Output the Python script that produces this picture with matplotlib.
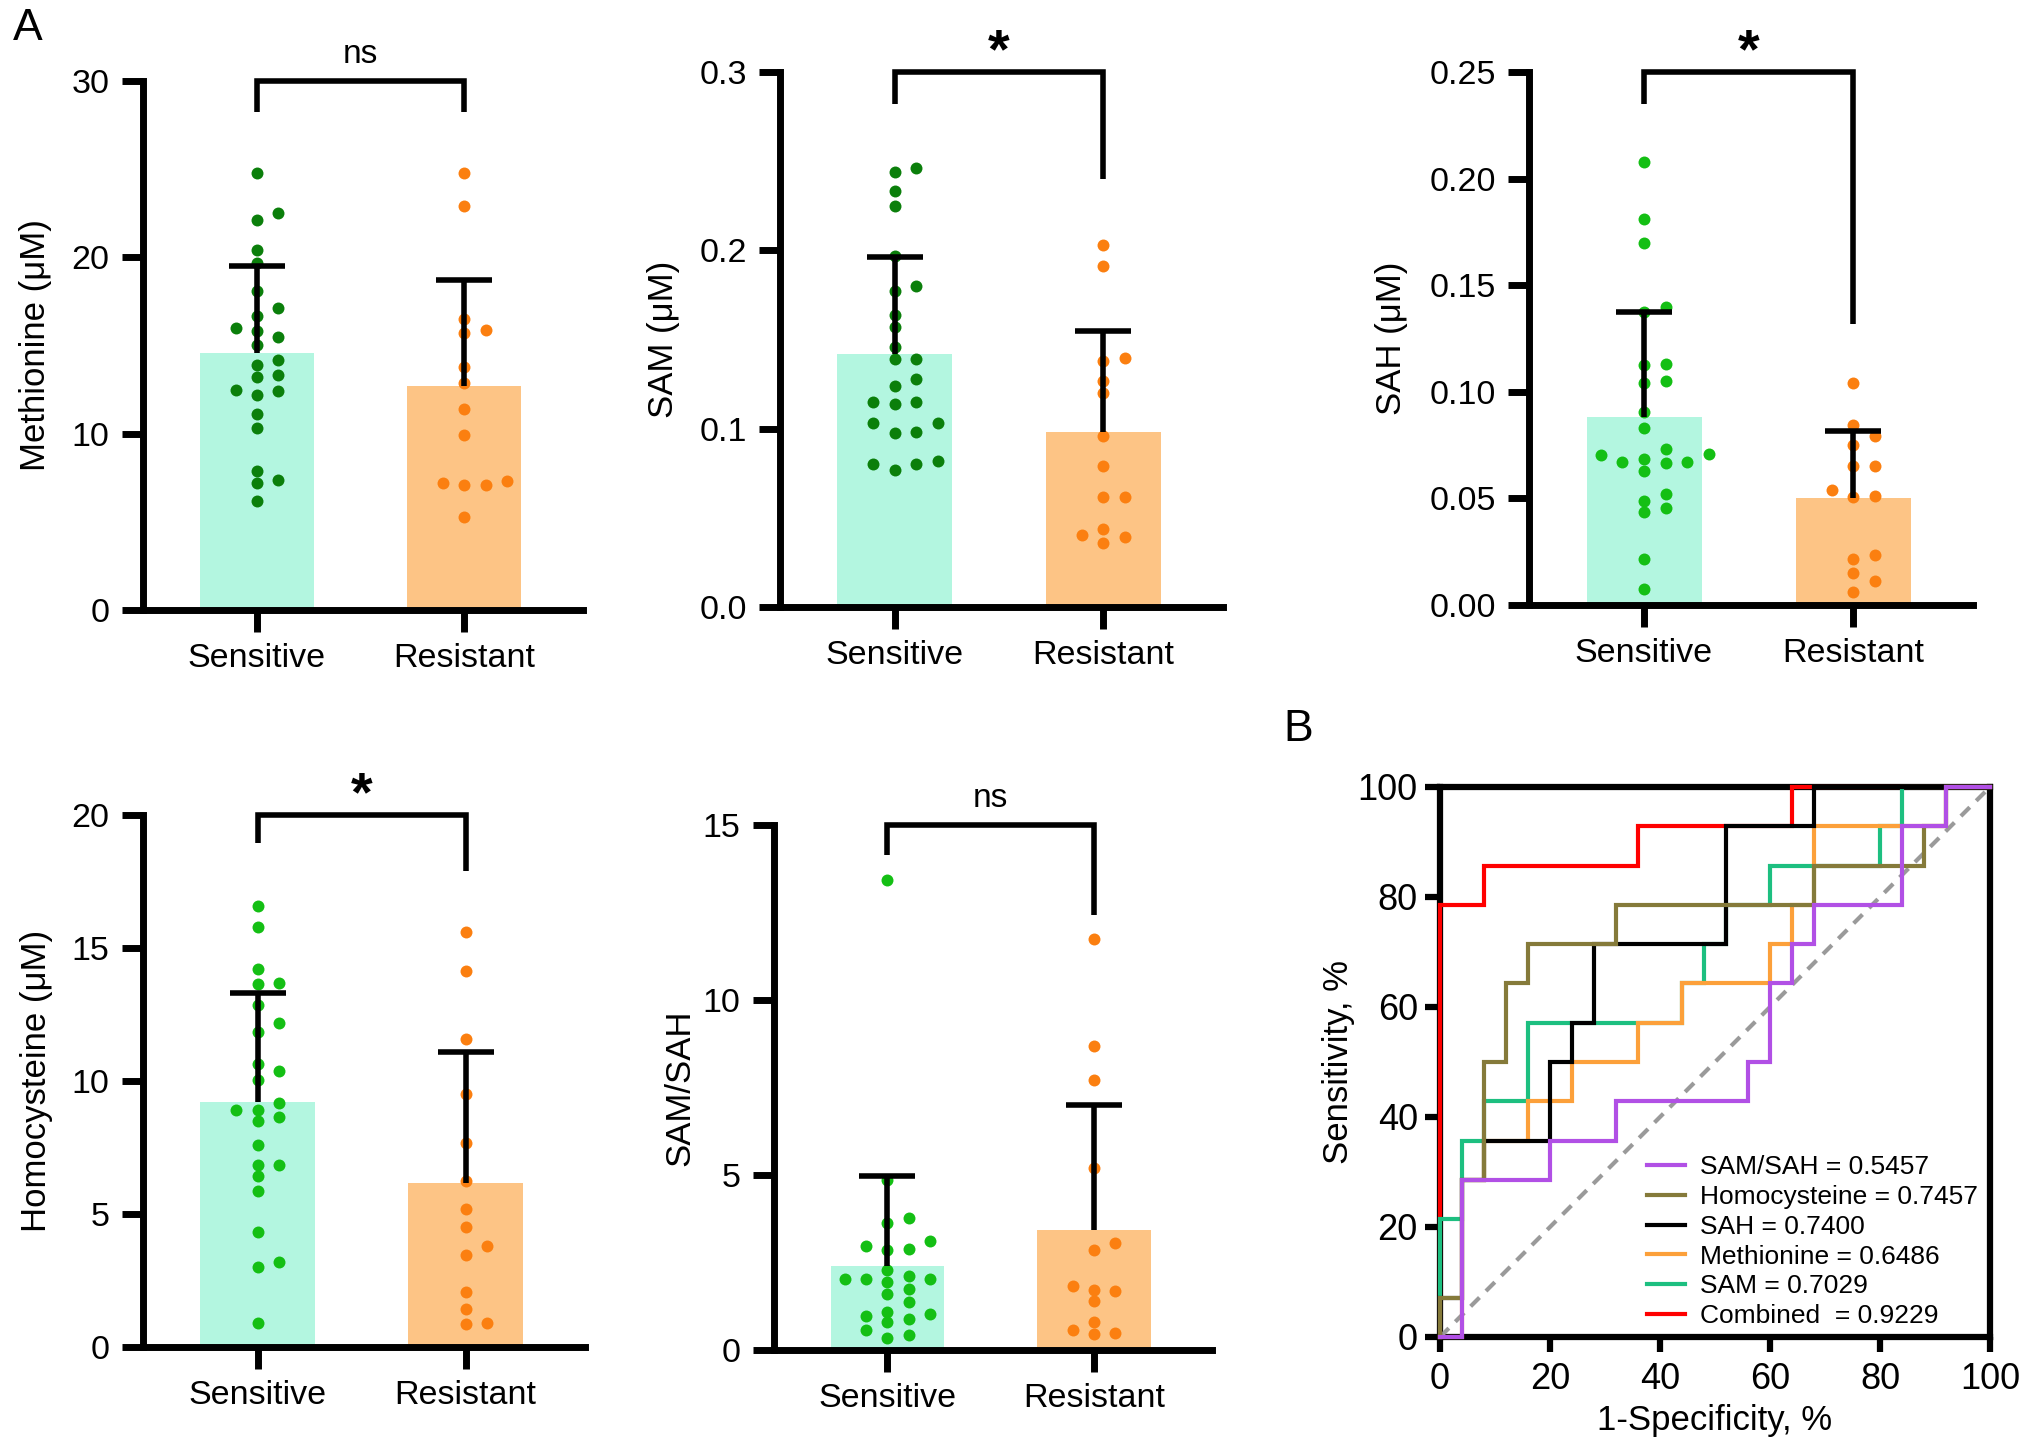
import numpy as np
import matplotlib
matplotlib.use("Agg")
import matplotlib.pyplot as plt
from matplotlib.lines import Line2D

plt.rcParams['font.family'] = ['Liberation Sans', 'DejaVu Sans']

# ---------------- data ----------------
categories = ['Sensitive', 'Resistant']

met_sens = [24.8, 22.5, 22.1, 20.4, 19.7, 18.1, 17.1, 16.7, 15.8, 16.0, 15.5, 15.0, 14.2,
            13.9, 13.2, 13.3, 12.5, 12.2, 12.4, 11.1, 10.3, 7.9, 7.4, 7.2, 6.2]
met_res = [24.8, 22.9, 16.5, 15.7, 15.9, 13.8, 12.9, 11.4, 9.9, 7.3, 7.1, 7.2, 7.1, 5.3]
met_mean = [14.6, 12.7]
met_sd = [4.9, 6.0]

sam_sens = [0.246, 0.244, 0.233, 0.225, 0.197, 0.180, 0.177, 0.164, 0.157, 0.146, 0.139,
            0.139, 0.128, 0.124, 0.115, 0.114, 0.115, 0.103, 0.103, 0.0975, 0.098, 0.082,
            0.080, 0.080, 0.077]
sam_res = [0.203, 0.191, 0.138, 0.1395, 0.127, 0.120, 0.096, 0.079, 0.0615, 0.0615, 0.044,
           0.036, 0.0405, 0.0395]
sam_mean = [0.142, 0.098]
sam_sd = [0.054, 0.057]

sah_sens = [0.208, 0.181, 0.170, 0.1375, 0.1396, 0.113, 0.1127, 0.105, 0.104, 0.0905, 0.083,
            0.0704, 0.073, 0.0709, 0.0666, 0.067, 0.0687, 0.0673, 0.0628, 0.049, 0.052,
            0.0434, 0.0455, 0.0218, 0.0074]
sah_res = [0.104, 0.0846, 0.0793, 0.0751, 0.0651, 0.0652, 0.0539, 0.0508, 0.0509, 0.0218,
           0.0233, 0.0148, 0.0112, 0.0063]
sah_mean = [0.0884, 0.0501]
sah_sd = [0.0491, 0.0313]

hcy_sens = [16.58, 15.80, 14.20, 13.68, 13.66, 12.85, 12.19, 11.84, 10.63, 10.36, 10.02, 9.17,
            8.91, 8.91, 8.65, 8.51, 7.60, 6.86, 6.86, 6.42, 5.87, 4.34, 3.21, 2.99, 0.90]
hcy_res = [15.59, 14.15, 11.58, 9.50, 7.67, 6.25, 5.17, 4.51, 3.78, 3.44, 2.05, 1.42, 0.87, 0.90]
hcy_mean = [9.20, 6.16]
hcy_sd = [4.12, 4.92]

ratio_sens = [13.44, 4.85, 3.77, 3.62, 3.11, 2.87, 2.96, 2.90, 2.28, 2.04, 2.12, 2.02, 2.04,
              1.95, 1.75, 1.59, 1.36, 1.03, 0.96, 1.09, 0.90, 0.79, 0.57, 0.43, 0.34]
ratio_res = [11.74, 8.70, 7.72, 5.20, 3.07, 2.85, 1.84, 1.69, 1.71, 1.40, 0.79, 0.46, 0.57, 0.50]
ratio_mean = [2.41, 3.44]
ratio_sd = [2.57, 3.56]

# significance brackets: (top, left leg end, right leg end), label
met_bracket = [30, 28.26, 28.26]
sam_bracket = [0.30, 0.282, 0.240]
sah_bracket = [0.25, 0.235, 0.1316]
hcy_bracket = [20, 18.96, 17.88]
ratio_bracket = [15, 14.14, 12.43]
sig_labels = ['ns', '*', '*', '*', 'ns']

# ROC curves (1-specificity %, sensitivity %)
roc_ratio_fpr = [0, 4, 4, 20, 20, 32, 32, 56, 56, 60, 60, 64, 64, 68, 68, 84, 84, 92, 92, 100]
roc_ratio_tpr = [0, 0, 28.57, 28.57, 35.71, 35.71, 42.86, 42.86, 50, 50, 64.29, 64.29, 71.43,
                 71.43, 78.57, 78.57, 92.86, 92.86, 100, 100]
roc_hcy_fpr = [0, 0, 4, 4, 8, 8, 12, 12, 16, 16, 32, 32, 68, 68, 88, 88, 92, 92, 100]
roc_hcy_tpr = [0, 7.14, 7.14, 28.57, 28.57, 50, 50, 64.29, 64.29, 71.43, 71.43, 78.57, 78.57,
               85.71, 85.71, 92.86, 92.86, 100, 100]
roc_sah_fpr = [0, 0, 4, 4, 8, 8, 20, 20, 24, 24, 28, 28, 52, 52, 68, 68, 100]
roc_sah_tpr = [0, 7.14, 7.14, 28.57, 28.57, 35.71, 35.71, 50, 50, 57.14, 57.14, 71.43, 71.43,
               92.86, 92.86, 100, 100]
roc_met_fpr = [0, 4, 4, 8, 8, 16, 16, 24, 24, 36, 36, 44, 44, 60, 60, 64, 64, 68, 68, 92, 92, 100]
roc_met_tpr = [0, 0, 28.57, 28.57, 35.71, 35.71, 42.86, 42.86, 50, 50, 57.14, 57.14, 64.29,
               64.29, 71.43, 71.43, 78.57, 78.57, 92.86, 92.86, 100, 100]
roc_sam_fpr = [0, 0, 4, 4, 8, 8, 16, 16, 44, 44, 48, 48, 52, 52, 60, 60, 80, 80, 84, 84, 100]
roc_sam_tpr = [0, 21.43, 21.43, 35.71, 35.71, 42.86, 42.86, 57.14, 57.14, 64.29, 64.29, 71.43,
               71.43, 78.57, 78.57, 85.71, 85.71, 92.86, 92.86, 100, 100]
roc_comb_fpr = [0, 0, 8, 8, 36, 36, 64, 64, 100]
roc_comb_tpr = [0, 78.57, 78.57, 85.71, 85.71, 92.86, 92.86, 100, 100]

roc_labels = ['SAM/SAH = 0.5457', 'Homocysteine = 0.7457', 'SAH = 0.7400',
              'Methionine = 0.6486', 'SAM = 0.7029', 'Combined  = 0.9229']

# ---------------- style ----------------
DARK_GREEN = '#0b7f0b'
LIGHT_GREEN = '#14bf14'
ORANGE_DOT = '#fb7f10'
BAR_S = '#b3f6e0'
BAR_R = '#fdc485'
ROC_COLORS = {'ratio': '#b150e5', 'hcy': '#857a3a', 'sah': '#000000',
              'met': '#fca03a', 'sam': '#1dbf80', 'comb': '#ff0000'}

W, H = 2032, 1450
fig = plt.figure(figsize=(W / 100, H / 100), dpi=100)


def rect(l, r, t, b):
    return [l / W, 1 - b / H, (r - l) / W, (b - t) / H]


def swarm_offsets(values, px_per_unit, step=0.103, thr_px=10.5):
    values = np.asarray(values, dtype=float)
    order = np.argsort(values, kind='stable')
    offs = np.zeros(len(values))
    placed = []
    for i in order:
        y = values[i] * px_per_unit
        for k in [0, 1, -1, 2, -2, 3, -3, 4, -4]:
            if all(not (s == k and abs(yy - y) < thr_px) for s, yy in placed):
                break
        placed.append((k, y))
        offs[i] = k * step
    return offs


def bar_panel(box, sens, res, means, sds, ylim, yticks, yfmt, ylabel, ylab_x,
              sens_color, bracket, sig):
    ax = fig.add_axes(rect(*box))
    ax.set_xlim(-0.55, 1.573)
    ax.set_ylim(*ylim)
    ax.bar([0, 1], means, width=0.55, color=[BAR_S, BAR_R], zorder=1)
    pxu = (box[3] - box[2]) / (ylim[1] - ylim[0])
    for i, (vals, col) in enumerate([(sens, sens_color), (res, ORANGE_DOT)]):
        offs = swarm_offsets(vals, pxu)
        ax.plot(i + offs, vals, 'o', ms=8.6, color=col, mec='none', zorder=3, clip_on=False)
    # upper-only error bars (mean -> mean + SD) with a cap at the top
    for i, (m, s) in enumerate(zip(means, sds)):
        ax.plot([i, i], [m, m + s], color='black', lw=4, solid_capstyle='butt', zorder=4)
        ax.plot([i], [m + s], marker='_', ms=40, mew=4, color='black', zorder=4)
    top, lft, rgt = bracket
    ax.plot([0, 0, 1, 1], [lft, top, top, rgt], color='black', lw=4, clip_on=False,
            solid_joinstyle='miter', solid_capstyle='butt', zorder=5)
    if sig == '*':
        ax.annotate('*', xy=(0.5, top), xytext=(0, -5), textcoords='offset points',
                    ha='center', va='bottom', fontsize=40, fontweight='bold')
    else:
        ax.annotate(sig, xy=(0.5, top), xytext=(0, 8), textcoords='offset points',
                    ha='center', va='bottom', fontsize=24)
    for s in ['top', 'right']:
        ax.spines[s].set_visible(False)
    for s in ['left', 'bottom']:
        ax.spines[s].set_linewidth(5)
    ax.spines['left'].set_bounds(ylim[0], ylim[1])
    ax.set_xticks([0, 1])
    ax.set_xticklabels(categories)
    ax.set_yticks(yticks)
    ax.set_yticklabels([yfmt.format(v) for v in yticks])
    ax.tick_params(axis='y', length=15, width=5, labelsize=24.5, pad=9)
    ax.tick_params(axis='x', length=16, width=5, labelsize=24.5, pad=8)
    ax.set_ylabel(ylabel, fontsize=25, va='center')
    ax.yaxis.set_label_coords(ylab_x, 0.5)
    return ax


bar_panel((143, 583, 81, 610), met_sens, met_res, met_mean, met_sd, (0, 30), [0, 10, 20, 30],
          '{:.0f}', 'Methionine (μM)', -0.245, DARK_GREEN, met_bracket, sig_labels[0])
bar_panel((780, 1223, 72, 607), sam_sens, sam_res, sam_mean, sam_sd, (0, 0.3),
          [0, 0.1, 0.2, 0.3], '{:.1f}', 'SAM (μM)', -0.264, DARK_GREEN, sam_bracket, sig_labels[1])
bar_panel((1529, 1973, 72, 605), sah_sens, sah_res, sah_mean, sah_sd, (0, 0.25),
          [0, 0.05, 0.10, 0.15, 0.20, 0.25], '{:.2f}', 'SAH (μM)', -0.309, LIGHT_GREEN,
          sah_bracket, sig_labels[2])
bar_panel((143, 585, 815, 1347), hcy_sens, hcy_res, hcy_mean, hcy_sd, (0, 20), [0, 5, 10, 15, 20],
          '{:.0f}', 'Homocysteine (μM)', -0.240, LIGHT_GREEN, hcy_bracket, sig_labels[3])
bar_panel((774, 1212, 825, 1350), ratio_sens, ratio_res, ratio_mean, ratio_sd, (0, 15),
          [0, 5, 10, 15], '{:.0f}', 'SAM/SAH', -0.215, LIGHT_GREEN, ratio_bracket, sig_labels[4])

# ---------------- ROC panel ----------------
ax = fig.add_axes(rect(1440, 1990, 787, 1337))
ax.set_xlim(0, 100)
ax.set_ylim(0, 100)
ax.plot([0, 100], [0, 100], ls=(0, (3, 2.2)), color='#9a9a9a', lw=3, zorder=2.6)
curves = [('comb', roc_comb_fpr, roc_comb_tpr), ('sam', roc_sam_fpr, roc_sam_tpr),
          ('met', roc_met_fpr, roc_met_tpr), ('sah', roc_sah_fpr, roc_sah_tpr),
          ('hcy', roc_hcy_fpr, roc_hcy_tpr), ('ratio', roc_ratio_fpr, roc_ratio_tpr)]
for z, (key, fx, fy) in enumerate(curves):
    ax.plot(fx, fy, color=ROC_COLORS[key], lw=3, zorder=3 + z, clip_on=False,
            solid_joinstyle='miter')
for s in ax.spines.values():
    s.set_linewidth(4.5)
ax.set_xticks([0, 20, 40, 60, 80, 100])
ax.set_yticks([0, 20, 40, 60, 80, 100])
ax.tick_params(axis='both', length=11, width=4.5, labelsize=26)
ax.tick_params(axis='y', pad=5)
ax.tick_params(axis='x', pad=7)
ax.set_xlabel('1-Specificity, %', fontsize=25, va='center')
ax.xaxis.set_label_coords(0.5, -0.152)
ax.set_ylabel('Sensitivity, %', fontsize=25, va='center')
ax.yaxis.set_label_coords(-0.185, 0.5)
legend_keys = ['ratio', 'hcy', 'sah', 'met', 'sam', 'comb']
handles = [Line2D([0], [0], color=ROC_COLORS[k], lw=3) for k in legend_keys]
ax.legend(handles, roc_labels, loc='lower left', bbox_to_anchor=(0.376, 0.016),
          frameon=False, fontsize=19, handlelength=1.45, handletextpad=0.55,
          labelspacing=0.22, borderpad=0, borderaxespad=0)

fig.text(13 / W, 1 - 8 / H, 'A', fontsize=32, ha='left', va='top')
fig.text(1283 / W, 1 - 709 / H, 'B', fontsize=32, ha='left', va='top')

fig.savefig('out.png', dpi=100)
